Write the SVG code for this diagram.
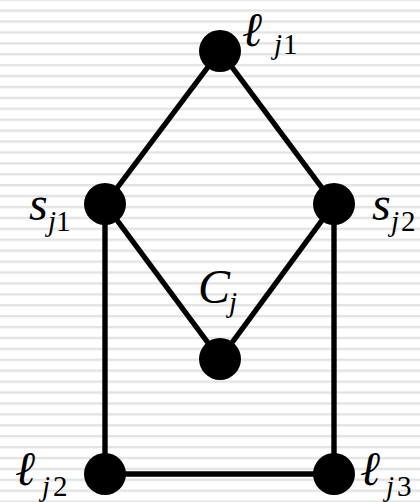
<svg xmlns="http://www.w3.org/2000/svg" width="420" height="502" viewBox="0 0 420 502">
<defs>
<pattern id="stripes" patternUnits="userSpaceOnUse" x="0" y="-1.5" width="420" height="10.913">
<rect x="0" y="0" width="420" height="2.4" fill="#e3e3e3"/>
</pattern>
</defs>
<style>
.edge{stroke:#000;stroke-width:5.4;fill:none}
.node{fill:#000}
.lbl{font-family:"Liberation Serif","Times New Roman",serif;font-style:italic;font-size:48px;fill:#000}
.sub{font-size:29px}
.num{font-style:normal}
.ell{font-family:"DejaVu Serif",serif;font-style:italic;font-size:48px}
</style>
<rect x="0" y="0" width="420" height="502" fill="#fff"/>
<rect x="0" y="0" width="420" height="502" fill="url(#stripes)"/>
<g id="connectors">
<line class="edge" x1="220" y1="51" x2="105" y2="204"/>
<line class="edge" x1="220" y1="51" x2="334" y2="204"/>
<line class="edge" x1="105" y1="204" x2="220" y2="359"/>
<line class="edge" x1="334" y1="204" x2="220" y2="359"/>
<line class="edge" x1="105" y1="204" x2="105" y2="474"/>
<line class="edge" x1="334" y1="204" x2="334" y2="474"/>
<line class="edge" x1="105" y1="474" x2="334" y2="474"/>
</g>
<g id="l_j1">
<circle class="node" cx="220" cy="51" r="21"/>
<text class="lbl"><tspan class="ell" x="242" y="46">ℓ</tspan><tspan class="sub" x="274" y="54">j</tspan><tspan class="sub num" x="283" y="54">1</tspan></text>
</g>
<g id="s_j1">
<circle class="node" cx="105" cy="204" r="21"/>
<text class="lbl"><tspan x="29" y="220">s</tspan><tspan class="sub" x="48" y="231">j</tspan><tspan class="sub num" x="56" y="231">1</tspan></text>
</g>
<g id="s_j2">
<circle class="node" cx="334" cy="204" r="21"/>
<text class="lbl"><tspan x="372" y="220">s</tspan><tspan class="sub" x="391" y="231">j</tspan><tspan class="sub num" x="401" y="231">2</tspan></text>
</g>
<g id="C_j">
<circle class="node" cx="220" cy="359" r="21"/>
<text class="lbl"><tspan x="198" y="303">C</tspan><tspan class="sub" x="229" y="312">j</tspan></text>
</g>
<g id="l_j2">
<circle class="node" cx="105" cy="474" r="21"/>
<text class="lbl"><tspan class="ell" x="15" y="485">ℓ</tspan><tspan class="sub" x="42" y="496">j</tspan><tspan class="sub num" x="53" y="496">2</tspan></text>
</g>
<g id="l_j3">
<circle class="node" cx="334" cy="474" r="21"/>
<text class="lbl"><tspan class="ell" x="360" y="485">ℓ</tspan><tspan class="sub" x="386" y="496">j</tspan><tspan class="sub num" x="397" y="496">3</tspan></text>
</g>
</svg>
